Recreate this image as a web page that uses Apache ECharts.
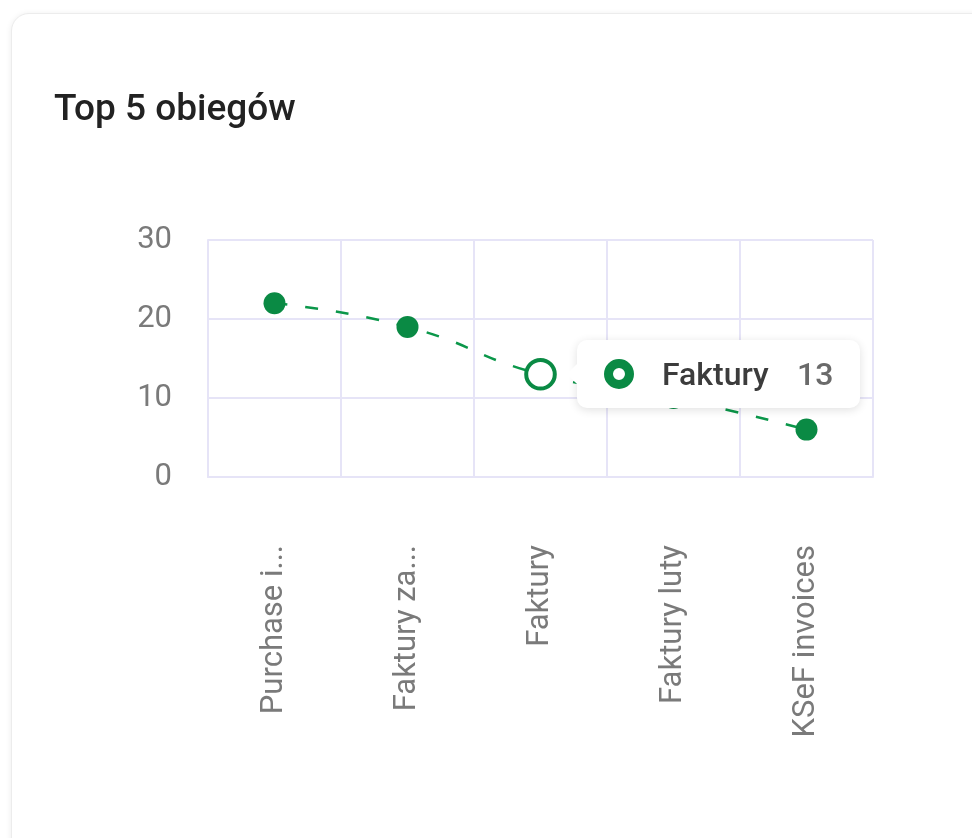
<!DOCTYPE html>
<html>
<head>
<meta charset="utf-8">
<script src="https://cdn.jsdelivr.net/npm/echarts@6/dist/echarts.min.js"></script>
<style>
  html, body { margin: 0; padding: 0; background: #fff; width: 972px; height: 838px; overflow: hidden; font-family: Roboto, sans-serif; }
  #card { position: absolute; left: 11px; top: 13px; width: 1000px; height: 860px; border: 1px solid #ececec; border-radius: 18px; box-shadow: 0 1px 6px rgba(0,0,0,0.08); background: #fff; }
  #chart { position: absolute; left: 0; top: 0; width: 972px; height: 838px; }
</style>
</head>
<body>
<div id="card"></div>
<div id="chart"></div>
<script>
const categories = ['Purchase invoices', 'Faktury zakupowe', 'Faktury', 'Faktury luty', 'KSeF invoices'];
const values = [22, 19, 13, 10, 6];
const yTicks = { min: 0, max: 30, interval: 10 };
const titleText = 'Top 5 obiegów';
const green = '#0a8a44';
const gridColor = '#e6e4f7';

const chart = echarts.init(document.getElementById('chart'), null, { renderer: 'canvas' });
chart.setOption({
  backgroundColor: 'transparent',
  animation: false,
  title: {
    text: titleText, left: 49, top: 87,
    textStyle: { fontFamily: 'Roboto', fontSize: 37, fontWeight: 500, color: '#222222' }
  },
  grid: { left: 208, right: 99, top: 240, bottom: 361, containLabel: false },
  tooltip: {
    trigger: 'item',
    alwaysShowContent: true,
    transitionDuration: 0,
    padding: 0,
    borderWidth: 0,
    backgroundColor: '#fff',
    extraCssText: 'border-radius:10px;box-shadow:0 2px 10px rgba(0,0,0,0.12);overflow:visible;',
    position: function () { return [577, 340]; },
    formatter: function (p) {
      return '<div style="position:relative;width:283px;height:68px;font-family:Roboto;">' +
        '<div style="position:absolute;left:-7px;top:27px;width:14px;height:14px;background:#fff;transform:rotate(45deg);"></div>' +
        '<span style="position:absolute;left:27px;top:19px;width:12px;height:12px;border:9px solid ' + green + ';border-radius:50%;"></span>' +
        '<span style="position:absolute;left:85px;top:15px;font-size:32px;line-height:38px;font-weight:500;color:#3c3c3c;">' + p.name + '</span>' +
        '<span style="position:absolute;left:220px;top:15px;font-size:32px;line-height:38px;font-weight:500;color:#6a6a6a;">' + p.value + '</span>' +
        '</div>';
    }
  },
  xAxis: {
    type: 'category',
    data: categories,
    boundaryGap: true,
    axisLine: { show: true, lineStyle: { color: gridColor, width: 2 } },
    axisTick: { show: false },
    splitLine: { show: true, lineStyle: { color: gridColor, width: 2 } },
    axisLabel: {
      rotate: 90, margin: 68, fontFamily: 'Roboto', fontSize: 31, color: '#7a7a7a',
      interval: 0,
      formatter: function (v) { return v.length > 13 ? v.slice(0, 10) + '...' : v; }
    }
  },
  yAxis: {
    type: 'value',
    min: yTicks.min, max: yTicks.max, interval: yTicks.interval,
    axisLine: { show: true, lineStyle: { color: gridColor, width: 2 } },
    axisTick: { show: false },
    splitLine: { show: true, lineStyle: { color: gridColor, width: 2 } },
    axisLabel: { margin: 36, fontFamily: 'Roboto', fontSize: 31, color: '#7a7a7a' }
  },
  series: [{
    type: 'line',
    data: values,
    smooth: true,
    symbol: 'circle',
    symbolSize: 22,
    itemStyle: { color: green },
    lineStyle: { color: green, width: 2.5, type: [13, 18] },
    emphasis: {
      scale: 1.3,
      itemStyle: { color: '#fff', borderColor: green, borderWidth: 4 }
    }
  }]
});
setTimeout(function () {
  chart.dispatchAction({ type: 'highlight', seriesIndex: 0, dataIndex: 2 });
  chart.dispatchAction({ type: 'showTip', seriesIndex: 0, dataIndex: 2 });
}, 50);
</script>
</body>
</html>
